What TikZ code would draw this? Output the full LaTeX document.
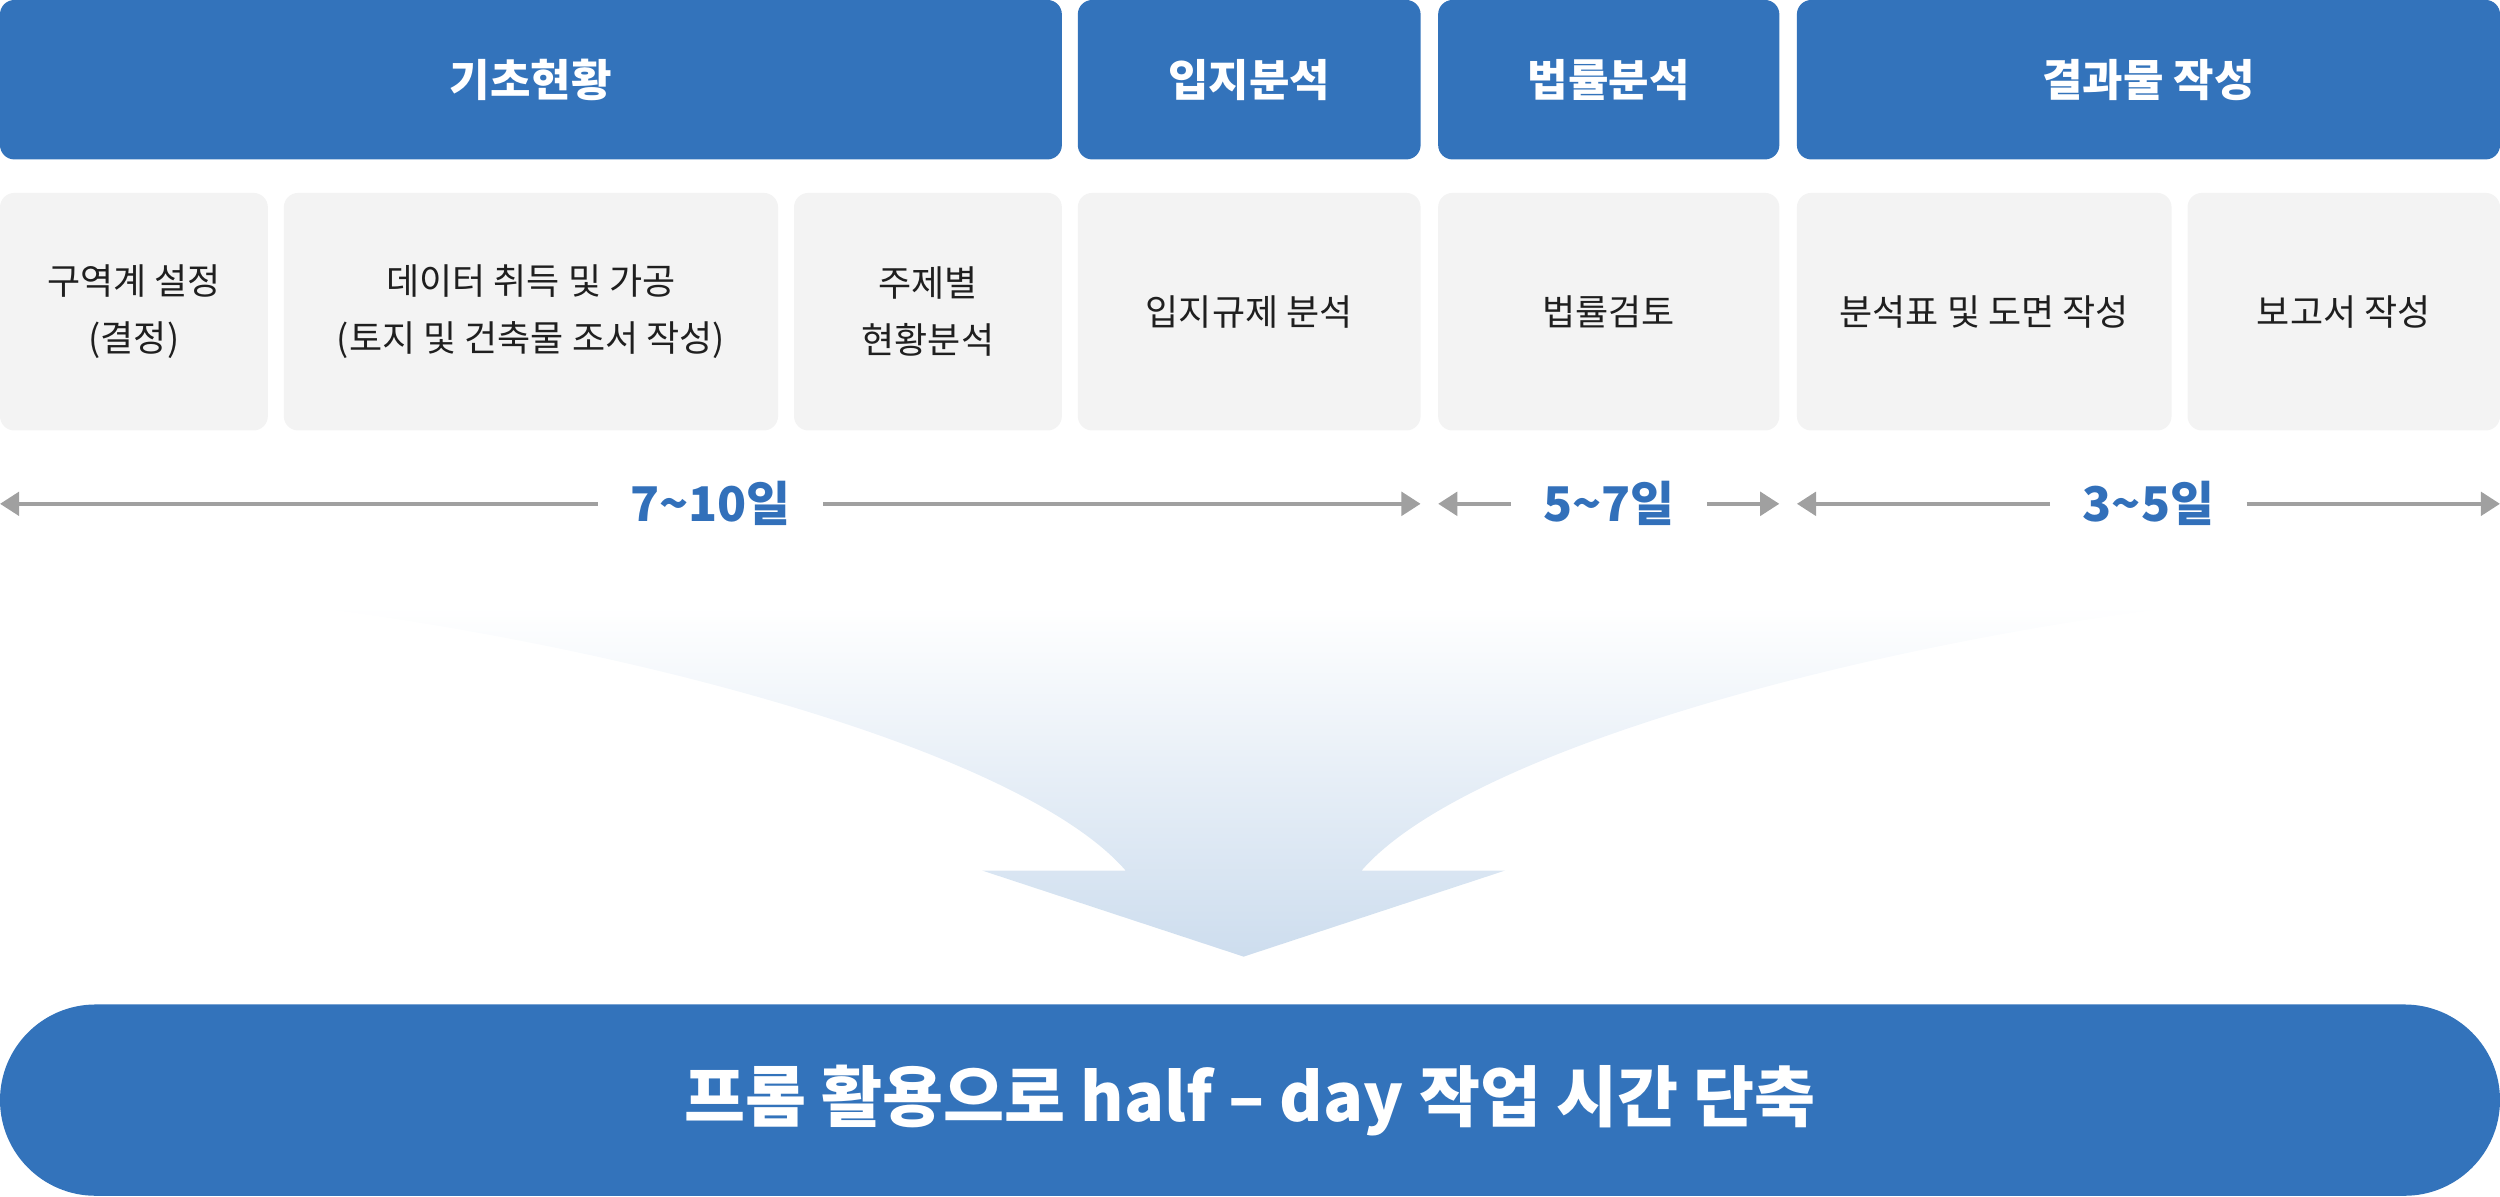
\documentclass[tikz,border=0pt]{standalone}
\usepackage{fontspec}
\setmainfont{Noto Sans CJK KR}
\usetikzlibrary{arrows.meta}
\definecolor{hblue}{RGB}{51,115,187}
\definecolor{lblue}{RGB}{50,112,186}
\definecolor{gbox}{RGB}{243,243,243}
\definecolor{garrow}{RGB}{160,160,160}
\definecolor{fbot}{RGB}{205,221,238}
\tikzset{
  hdr/.style={fill=hblue, rounded corners=4.5pt, minimum height=50pt, inner sep=0pt,
    text=white, font=\fontsize{13.8}{16}\selectfont\bfseries},
  gray/.style={fill=gbox, rounded corners=4.5pt, minimum height=74.5pt, inner sep=0pt,
    text=black!88, align=center, font=\fontsize{11.3}{18}\selectfont},
  dlabel/.style={inner xsep=10pt, inner ysep=0pt, text=lblue,
    font=\fontsize{15}{18}\selectfont\bfseries},
  garr/.style={draw=garrow, line width=1.35pt, -{Triangle[length=6pt,width=7.3pt]}},
  pill/.style={fill=hblue, rounded corners=30pt, minimum width=784pt, minimum height=60pt,
    inner sep=0pt, text=white, font=\fontsize{20.8}{24}\selectfont\bfseries}
}
\begin{document}
\begin{tikzpicture}[x=0.5pt,y=-0.5pt]
\useasboundingbox (0,0) rectangle (1568,750.75);
% headers
\node[hdr, minimum width=333pt] (h1) at (333,50) {기초현황};
\node[hdr, minimum width=107.5pt] (h2) at (783.5,50) {입지분석};
\node[hdr, minimum width=107pt] (h3) at (1009,50) {법률분석};
\node[hdr, minimum width=220.5pt] (h4) at (1347.5,50) {결과물 작성};
% gray boxes
\node[gray, minimum width=84pt] (g1) at (84,195.5) {구역계 설정\\(결정)};
\node[gray, minimum width=155pt] (g2) at (333,195.5) {데이터 취득 및 가공\\(토지 및 건축물 조서 작성)};
\node[gray, minimum width=84pt] (g3) at (582,195.5) {주제별\\현황분석};
\node[gray, minimum width=107.5pt] (g4) at (783.5,195.5) {입지규제 분석};
\node[gray, minimum width=107pt] (g5) at (1009,195.5) {법률검토};
\node[gray, minimum width=117.5pt] (g6) at (1244.5,195.5) {분석표 및 도면 작성};
\node[gray, minimum width=98pt] (g7) at (1470,195.5) {보고서 작성};
% duration arrows
\coordinate (a1s) at (0,316);
\coordinate (a1e) at (891,316);
\coordinate (a2s) at (902,316);
\coordinate (a2e) at (1116,316);
\coordinate (a3s) at (1127,316);
\coordinate (a3e) at (1568,316);
\node[dlabel] (l1) at (445.5,316) {7\textasciitilde10일};
\node[dlabel] (l2) at (1009,316) {5\textasciitilde7일};
\node[dlabel] (l3) at (1347.5,316) {3\textasciitilde5일};
\draw[garr] (l1.west) -- (a1s);
\draw[garr] (l1.east) -- (a1e);
\draw[garr] (l2.west) -- (a2s);
\draw[garr] (l2.east) -- (a2e);
\draw[garr] (l3.west) -- (a3s);
\draw[garr] (l3.east) -- (a3e);
% funnel arrow
\shade[top color=white, bottom color=fbot, draw=none]
  (188,380) .. controls (388,404) and (640,470) .. (706,546)
  -- (616,546) -- (780,600) -- (944,546) -- (854,546)
  .. controls (920,470) and (1172,404) .. (1372,380) -- cycle;
% bottom pill
\node[pill] (res) at (784,690) {프롬 활용으로 half – day 작업 시간 단축};
\end{tikzpicture}
\end{document}
